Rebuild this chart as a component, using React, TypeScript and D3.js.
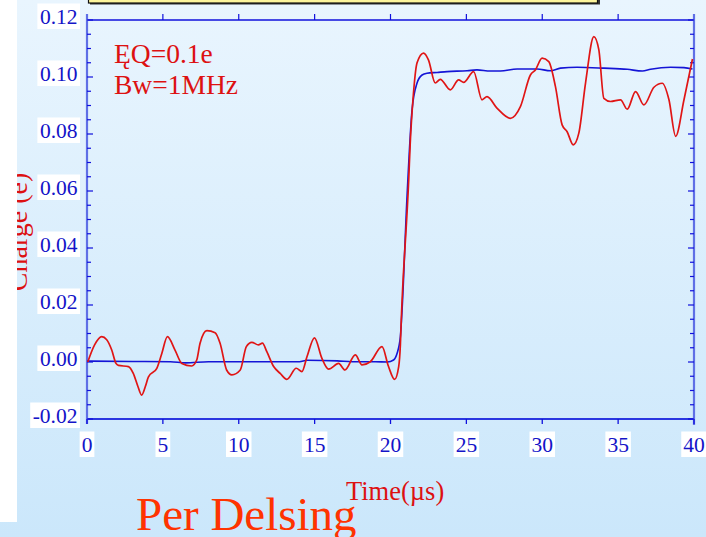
import React, { useEffect, useRef } from "react";
import * as d3 from "d3";

// ---- data ----
const redTime = [
  0.05, 0.5, 0.97, 1.3, 1.63, 1.91, 2.07, 2.73, 3.05, 3.35, 3.6, 3.85, 4.05, 4.6, 4.93, 5.3, 5.8,
  6.25, 6.9, 7.23, 7.45, 7.9, 8.44, 8.77, 9.2, 9.55, 10.1, 10.5, 10.86, 11.3, 11.56, 11.85, 12.3,
  12.73, 13.17, 13.79, 14.16, 14.5, 14.99, 15.48, 15.92, 16.58, 17.0, 17.68, 18.12, 18.67, 19.44,
  19.87, 20.27, 20.54, 20.65, 20.71, 21.2, 21.3, 21.48, 21.75, 22.18, 22.5, 22.95, 23.28, 23.94,
  24.49, 24.82, 25.48, 26.03, 26.36, 27.03, 27.9, 28.56, 29.22, 29.55, 29.99, 30.43, 30.87, 31.31,
  31.64, 32.04, 32.41, 32.85, 33.4, 33.73, 34.06, 34.5, 35.16, 35.6, 36.15, 36.7, 37.36, 37.91,
  38.35, 38.79, 39.34, 39.9,
];
const redCharge = [
  0.0, 0.006, 0.0089, 0.0078, 0.0042, -0.0005, -0.0012, -0.0016, -0.004, -0.0085, -0.0116,
  -0.0085, -0.0052, -0.0022, 0.003, 0.0089, 0.0042, -0.0005, -0.0014, 0.0007, 0.0066, 0.011,
  0.0103, 0.0066, -0.0028, -0.0045, -0.0028, 0.0054, 0.0069, 0.006, 0.0066, 0.0036, -0.0016,
  -0.004, -0.0061, -0.0022, -0.0034, 0.0019, 0.0085, 0.0013, -0.0025, -0.0005, -0.0028, 0.0025,
  -0.001, 0.0001, 0.0054, -0.0016, -0.0061, -0.0016, 0.006, 0.0147, 0.064, 0.0768, 0.092, 0.105,
  0.1084, 0.106, 0.0979, 0.0992, 0.0955, 0.099, 0.0981, 0.1019, 0.092, 0.0931, 0.089, 0.0855,
  0.0896, 0.1007, 0.1025, 0.1066, 0.1054, 0.0966, 0.0832, 0.0808, 0.0762, 0.0803, 0.0978, 0.1142,
  0.1095, 0.0925, 0.0914, 0.092, 0.0887, 0.0949, 0.0902, 0.0964, 0.0978, 0.092, 0.0792, 0.092,
  0.1063,
];

const blueTime = [
  0.0, 3.0, 5.5, 6.5, 8.0, 11.0, 14.0, 14.5, 16.5, 17.5, 19.0, 19.8, 20.2, 20.43, 20.65, 20.76,
  21.08, 21.42, 21.75, 22.08, 22.4, 23.07, 23.73, 25.05, 25.7, 26.58, 27.24, 28.34, 29.66, 30.54,
  31.2, 32.3, 34.06, 35.6, 36.6, 37.14, 38.46, 39.34, 39.9,
];
const blueCharge = [
  0.0003, 0.0002, 0.0001, -0.0003, 0.0001, 0.0001, 0.0001, 0.0006, 0.0004, 0.0001, 0.0001, 0.0,
  0.0007, 0.003, 0.0089, 0.018, 0.057, 0.0885, 0.0979, 0.1007, 0.1013, 0.1016, 0.1019, 0.1022,
  0.1025, 0.1021, 0.1021, 0.1028, 0.1028, 0.1022, 0.1031, 0.1034, 0.1031, 0.1027, 0.1021, 0.1027,
  0.1034, 0.1033, 0.1028,
];

const xTicks = [0, 5, 10, 15, 20, 25, 30, 35, 40];
const yTicks = [-0.02, 0.0, 0.02, 0.04, 0.06, 0.08, 0.1, 0.12];
const yTickLabels = ["-0.02", "0.00", "0.02", "0.04", "0.06", "0.08", "0.10", "0.12"];
const yMinorTicks = d3.range(-0.02, 0.1201, 0.005);

const SERIF = "'Liberation Serif', 'Times New Roman', Times, serif";

export default function App() {
  const ref = useRef<SVGSVGElement>(null);

  useEffect(() => {
    const svg = d3.select(ref.current);
    svg.selectAll("*").remove();
    const W = 706, H = 537;
    const L = 87, R = 694, T = 20, B = 419;

    const x = d3.scaleLinear().domain([0, 40]).range([L, R]);
    const y = d3.scaleLinear().domain([-0.02, 0.12]).range([B, T]);

    const defs = svg.append("defs");
    const g = defs.append("linearGradient").attr("id", "bg").attr("x1", 0).attr("y1", 0).attr("x2", 0).attr("y2", 1);
    g.append("stop").attr("offset", "0%").attr("stop-color", "#e9f5fe");
    g.append("stop").attr("offset", "100%").attr("stop-color", "#cbe7fb");

    svg.append("rect").attr("x", 0).attr("y", 0).attr("width", W).attr("height", H).attr("fill", "url(#bg)");

    // rotated y-axis title (mostly hidden under white strip)
    svg.append("text")
      .attr("transform", `translate(27, 232) rotate(-90)`)
      .attr("text-anchor", "middle")
      .attr("font-family", SERIF).attr("font-size", 28)
      .attr("fill", "#dd1111")
      .text("Charge (e)");

    svg.append("rect").attr("x", 0).attr("y", 0).attr("width", 17).attr("height", 522).attr("fill", "#ffffff");

    // yellow title box at top (mostly off-screen)
    svg.append("rect").attr("x", 90).attr("y", -10).attr("width", 510).attr("height", 14.5).attr("fill", "#333");
    svg.append("rect").attr("x", 88.5).attr("y", -12).attr("width", 509).attr("height", 15)
      .attr("fill", "#fdf59c").attr("stroke", "#111").attr("stroke-width", 1.2);

    // axes lines
    const axisDark = "#1010dd";
    const axisLight = "#5f6fe6";
    svg.append("line").attr("x1", L).attr("x2", R).attr("y1", T).attr("y2", T).attr("stroke", axisDark).attr("stroke-width", 1.5);
    svg.append("line").attr("x1", L).attr("x2", R).attr("y1", B).attr("y2", B).attr("stroke", "#2a36e0").attr("stroke-width", 2);
    svg.append("line").attr("x1", L).attr("x2", L).attr("y1", 14).attr("y2", B + 5).attr("stroke", axisLight).attr("stroke-width", 2.2);
    svg.append("line").attr("x1", R).attr("x2", R).attr("y1", 14).attr("y2", B + 6).attr("stroke", axisLight).attr("stroke-width", 2.2);

    // x ticks (bottom outward, top outward)
    svg.append("g").selectAll("line").data(xTicks).join("line")
      .attr("x1", (d) => x(d)).attr("x2", (d) => x(d)).attr("y1", B).attr("y2", B + 5)
      .attr("stroke", axisDark).attr("stroke-width", 1.3);
    svg.append("g").selectAll("line").data(xTicks.slice(1, -1)).join("line")
      .attr("x1", (d) => x(d)).attr("x2", (d) => x(d)).attr("y1", T).attr("y2", T - 6)
      .attr("stroke", axisDark).attr("stroke-width", 1.2);

    // y ticks (left and right inward)
    const isMajor = (v: number) => Math.abs(Math.round(v / 0.02) * 0.02 - v) < 1e-6;
    svg.append("g").selectAll("line").data(yMinorTicks).join("line")
      .attr("x1", L).attr("x2", (d) => L + (isMajor(d) ? 6 : 4)).attr("y1", (d) => y(d)).attr("y2", (d) => y(d))
      .attr("stroke", axisDark).attr("stroke-width", 1.2);
    svg.append("g").selectAll("line").data(yMinorTicks).join("line")
      .attr("x1", R).attr("x2", (d) => R - (isMajor(d) ? 6 : 4)).attr("y1", (d) => y(d)).attr("y2", (d) => y(d))
      .attr("stroke", axisDark).attr("stroke-width", 1.2);

    const labelColor = "#1414c8";
    // y tick labels with white backgrounds
    yTicks.forEach((v, i) => {
      const gg = svg.append("g");
      const t = gg.append("text")
        .attr("x", 77.5).attr("y", y(v) + 3.5)
        .attr("text-anchor", "end")
        .attr("font-family", SERIF).attr("font-size", 21.5)
        .attr("fill", labelColor)
        .text(yTickLabels[i]);
      const bb = (t.node() as SVGTextElement).getBBox();
      gg.insert("rect", "text")
        .attr("x", bb.x - 2.5).attr("y", y(v) + 3.5 - 20)
        .attr("width", 80 - (bb.x - 2.5)).attr("height", 25.5)
        .attr("fill", "#ffffff");
    });
    // x tick labels
    xTicks.forEach((v) => {
      const gg = svg.append("g");
      const t = gg.append("text")
        .attr("x", x(v)).attr("y", 451.5)
        .attr("text-anchor", "middle")
        .attr("font-family", SERIF).attr("font-size", 21.5)
        .attr("fill", labelColor)
        .text(String(v));
      const bb = (t.node() as SVGTextElement).getBBox();
      gg.insert("rect", "text")
        .attr("x", bb.x - 2).attr("y", 431.5)
        .attr("width", bb.width + 4).attr("height", 25.5)
        .attr("fill", "#ffffff");
    });

    // data lines
    const blueData = blueTime.map((t, i) => [t, blueCharge[i]] as [number, number]);
    const redData = redTime.map((t, i) => [t, redCharge[i]] as [number, number]);
    const line = d3.line<[number, number]>()
      .x((d) => x(d[0])).y((d) => y(d[1]))
      .curve(d3.curveMonotoneX);

    svg.append("path").attr("d", line(blueData) as string)
      .attr("fill", "none").attr("stroke", "#1414d6").attr("stroke-width", 1.6);
    svg.append("path").attr("d", line(redData) as string)
      .attr("fill", "none").attr("stroke", "#e01515").attr("stroke-width", 1.7);

    // annotations
    svg.append("text").attr("x", 114).attr("y", 63)
      .attr("font-family", SERIF).attr("font-size", 27.5).attr("fill", "#dd1111")
      .text("ĘQ=0.1e");
    svg.append("text").attr("x", 114).attr("y", 94)
      .attr("font-family", SERIF).attr("font-size", 27.5).attr("fill", "#dd1111")
      .text("Bw=1MHz");

    svg.append("text").attr("x", 346).attr("y", 500)
      .attr("font-family", SERIF).attr("font-size", 26.5).attr("fill", "#dd1111")
      .text("Time(µs)");

    svg.append("text").attr("x", 136).attr("y", 530)
      .attr("font-family", SERIF).attr("font-size", 47).attr("fill", "#ff3300")
      .text("Per Delsing");
  }, []);

  return (
    <svg
      ref={ref}
      width={706}
      height={537}
      style={{ position: "absolute", left: 0, top: 0, display: "block" }}
    />
  );
}
